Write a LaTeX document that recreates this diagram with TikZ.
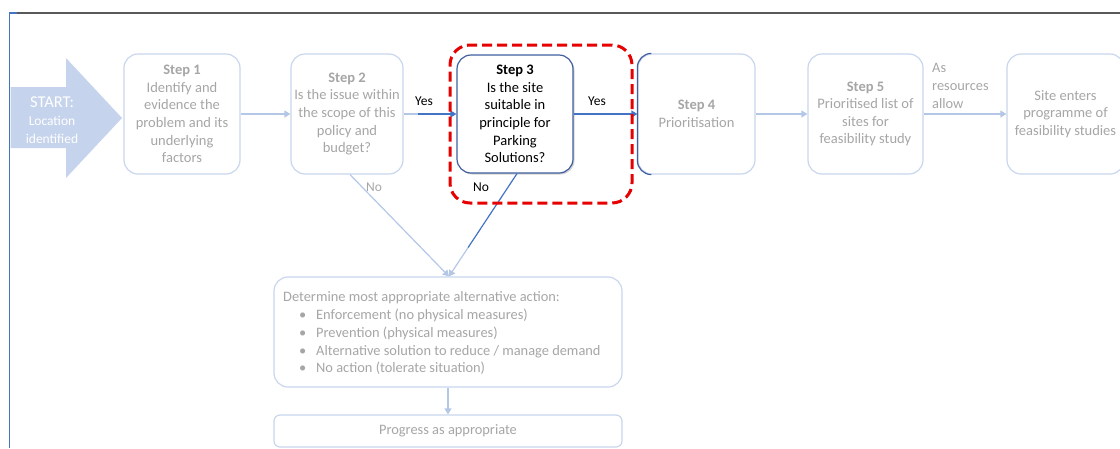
\documentclass[tikz,border=0pt]{standalone}
\usepackage{fontspec}
\setmainfont{Carlito}
\usetikzlibrary{arrows.meta,calc,shadows}
\definecolor{paleline}{HTML}{C9D6EE}
\definecolor{palearrow}{HTML}{B4C7E7}
\definecolor{greytext}{HTML}{A6A6A6}
\definecolor{deepblue}{HTML}{4472C4}
\definecolor{boxblue}{HTML}{3F5F9F}
\definecolor{startfill}{HTML}{C5D3EC}
\definecolor{framegrey}{HTML}{595959}
\definecolor{hlred}{HTML}{E60000}
\begin{document}
\begin{tikzpicture}[x=1pt,y=-1pt,
  every node/.style={font=\fontsize{14.5}{17.6}\selectfont},
  stepbox/.style={draw=paleline, line width=1.2pt, rounded corners=14pt, fill=white,
    minimum height=120pt, align=center, text=greytext, inner sep=0pt},
  activebox/.style={stepbox, draw=boxblue, text=black,
    drop shadow={opacity=0.35, shadow xshift=1.5pt, shadow yshift=-1.5pt}},
  palearr/.style={draw=palearrow, line width=1.2pt, -{Triangle[length=6pt,width=7pt]}},
  paleline/.style={draw=palearrow, line width=1.2pt},
  deeparr/.style={draw=deepblue, line width=1.2pt, -{Triangle[length=6pt,width=7pt]}},
  deepline/.style={draw=deepblue, line width=1.2pt},
  lbl/.style={inner sep=0pt, font=\fontsize{13.5}{15}\selectfont},
  highlight/.style={draw=hlred, line width=3pt, rounded corners=20pt,
    dash pattern=on 10pt off 5pt, minimum width=182pt, minimum height=158pt}
]
\useasboundingbox (0,0) rectangle (1120,448);

% outer frame
\draw[framegrey, line width=1.5pt] (17,13) -- (1120,13);
\draw[deepblue, line width=1.5pt] (17,13) -- (9.5,13) -- (9.5,448);

% start arrow
\fill[startfill] (10.5,87) -- (66,87) -- (66,58) -- (122,118) -- (66,178) -- (66,148) -- (10.5,148) -- cycle;
\node[text=white, align=center, inner sep=0pt] (start) at (52,120)
  {{\fontsize{16.5}{19}\selectfont START:}\\[1pt]{\fontsize{13.5}{16}\selectfont Location}\\{\fontsize{13.5}{16}\selectfont identified}};

% process steps
\node[stepbox, minimum width=116pt] (s1) at (182,114)
  {\textbf{Step 1}\\Identify and\\evidence the\\problem and its\\underlying\\factors};
\node[stepbox, minimum width=112pt] (s2) at (347,114)
  {\textbf{Step 2}\\Is the issue within\\the scope of this\\policy and\\budget?};
\node[stepbox, minimum width=117pt] (s4) at (696.5,114)
  {\textbf{Step 4}\\Prioritisation};
\node[stepbox, minimum width=115pt] (s5) at (865.5,114)
  {\textbf{Step 5}\\Prioritised list of\\sites for\\feasibility study};
\node[stepbox, minimum width=117pt] (s6) at (1065.5,114)
  {Site enters\\programme of\\feasibility studies};
\node[activebox, minimum width=116pt, minimum height=118pt] (s3) at (515,114)
  {\textbf{Step 3}\\Is the site\\suitable in\\principle for\\Parking\\Solutions?};

% darker left edge of step 4
\draw[boxblue, line width=1.2pt, rounded corners=14pt]
  ([xshift=13pt]s4.north west) -- (s4.north west) -- (s4.south west) -- ([xshift=13pt]s4.south west);

% alternative action and outcome
\node[stepbox, minimum width=348pt, minimum height=110pt] (alt) at (448,332) {};
\node[anchor=north west, align=left, text=greytext, inner sep=0pt,
  font=\fontsize{14.4}{17.8}\selectfont] (altText) at (283,291.5)
  {Determine most appropriate alternative action:\\
   \hspace*{16pt}\makebox[17pt][l]{\textbullet}Enforcement (no physical measures)\\
   \hspace*{16pt}\makebox[17pt][l]{\textbullet}Prevention (physical measures)\\
   \hspace*{16pt}\makebox[17pt][l]{\textbullet}Alternative solution to reduce / manage demand\\
   \hspace*{16pt}\makebox[17pt][l]{\textbullet}No action (tolerate situation)};
\node[stepbox, rounded corners=6pt, minimum width=348pt, minimum height=32pt,
  font=\fontsize{14.4}{16}\selectfont] (prog) at (448,431) {Progress as appropriate};

% connectors
\draw[palearr] (s1.east) -- (s2.west);
\coordinate (yesTurn) at (418,114);
\draw[paleline] (s2.east) -- (yesTurn);
\draw[deeparr] (yesTurn) -- (s3.west);
\draw[deeparr] (s3.east) -- (s4.west);
\draw[palearr] (s4.east) -- (s5.west);
\draw[palearr] (s5.east) -- (s6.west);

\coordinate (noA) at ([xshift=3pt]s2.south);
\coordinate (noB) at ([xshift=2pt]s3.south);
\coordinate (meet) at ([xshift=1pt]alt.north);
\draw[palearr] (noA) -- (meet);
\coordinate (noFade) at ($(noB)!0.72!(meet)$);
\draw[deepline] (noB) -- (noFade);
\draw[palearr] (noFade) -- (meet);
\draw[palearr] (alt.south) -- (prog.north);

% connector labels
\node[lbl] (yes1) at (424,101) {Yes};
\node[lbl] (yes2) at (597,101) {Yes};
\node[lbl, text=greytext] (no1) at (374,187) {No};
\node[lbl] (no2) at (481,187) {No};
\node[lbl, text=greytext, anchor=west, align=left, font=\fontsize{14.4}{17.6}\selectfont] (asRes) at (932,86)
  {As\\resources\\allow};

% highlight around step 3
\node[highlight] (focus) at (541,124) {};
\end{tikzpicture}
\end{document}
